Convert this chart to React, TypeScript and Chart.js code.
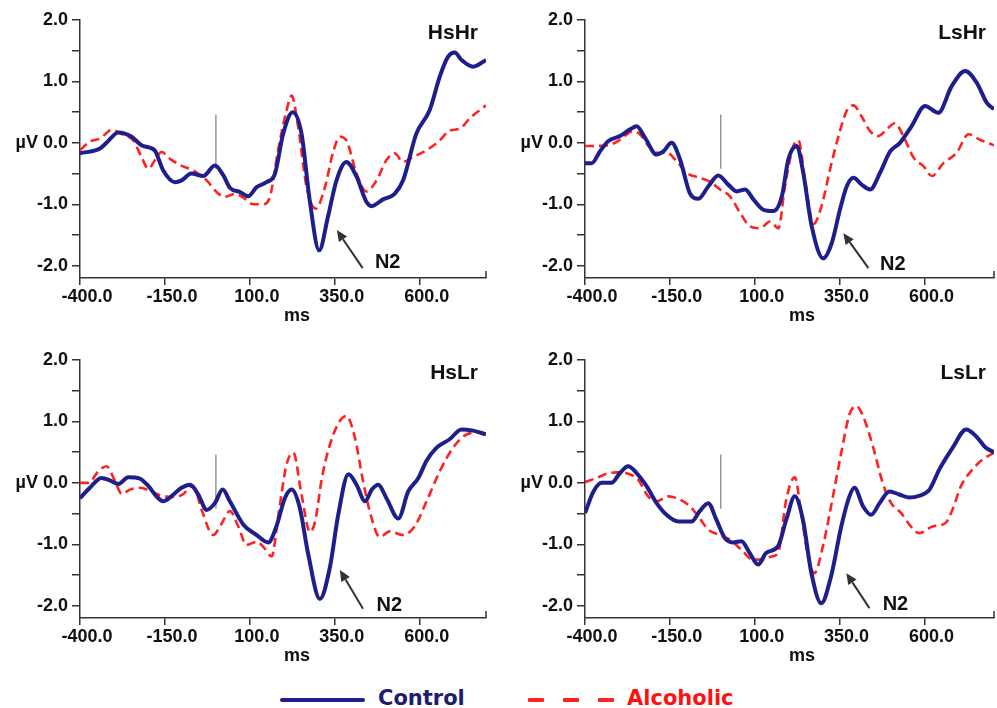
import React, { useEffect, useRef } from "react";
import { Chart, registerables } from "chart.js";

Chart.register(...registerables);

// ---------- data (time in ms, amplitude in µV) ----------
const xTickValues = [-400, -150, 100, 350, 600];
const yTickValues = [-2, -1.5, -1, -0.5, 0, 0.5, 1, 1.5, 2];
const legendLabels = ["Control", "Alcoholic"];

const hsHrControl = [[-400,-0.17],[-341,-0.09],[-322,0],[-287,0.17],[-248,0.1],[-219,-0.04],[-194,-0.08],[-179,-0.13],[-155,-0.45],[-120,-0.64],[-101,-0.61],[-72,-0.5],[-37,-0.54],[-3,-0.37],[22,-0.53],[41,-0.73],[71,-0.8],[95,-0.87],[120,-0.72],[149,-0.64],[174,-0.5],[198,0.15],[226,0.5],[252,0.15],[276,-0.93],[304,-1.75],[330,-1.2],[355,-0.61],[384,-0.31],[414,-0.55],[443,-0.96],[458,-1.03],[492,-0.92],[526,-0.83],[551,-0.61],[590,0.15],[629,0.53],[659,1.08],[683,1.4],[703,1.47],[723,1.35],[757,1.24],[795,1.35]];
const hsHrAlcoholic = [[-400,-0.12],[-371,0.02],[-341,0.07],[-307,0.21],[-273,0.13],[-243,0.04],[-219,-0.23],[-199,-0.42],[-179,-0.28],[-160,-0.15],[-135,-0.26],[-106,-0.36],[-67,-0.45],[-27,-0.61],[2,-0.8],[26,-0.88],[56,-0.83],[85,-0.91],[110,-1.0],[139,-1.0],[159,-0.88],[183,-0.12],[208,0.53],[223,0.77],[242,0.26],[267,-0.72],[294,-1.07],[321,-0.72],[345,-0.15],[365,0.1],[384,0.04],[414,-0.5],[443,-0.79],[473,-0.61],[502,-0.28],[526,-0.17],[551,-0.31],[580,-0.23],[620,-0.12],[659,0.04],[688,0.2],[718,0.23],[747,0.4],[795,0.61]];

const lsHrControl = [[-400,-0.33],[-380,-0.33],[-356,-0.14],[-331,0.03],[-297,0.11],[-267,0.22],[-248,0.27],[-223,0.08],[-189,-0.19],[-169,-0.14],[-145,0],[-120,-0.27],[-91,-0.82],[-66,-0.91],[-37,-0.71],[-7,-0.53],[22,-0.68],[47,-0.79],[72,-0.76],[96,-0.92],[126,-1.09],[155,-1.11],[180,-0.87],[199,-0.27],[224,-0.05],[243,-0.49],[268,-1.36],[302,-1.88],[327,-1.63],[351,-1.09],[371,-0.71],[391,-0.57],[415,-0.68],[440,-0.76],[469,-0.49],[499,-0.14],[528,0],[562,0.27],[602,0.6],[641,0.49],[680,0.92],[720,1.17],[754,0.98],[784,0.65],[805,0.55]];
const lsHrAlcoholic = [[-400,-0.05],[-366,-0.05],[-326,-0.03],[-297,0.05],[-258,0.19],[-238,0.14],[-213,-0.05],[-189,-0.16],[-159,-0.16],[-130,-0.3],[-100,-0.49],[-61,-0.57],[-32,-0.63],[-2,-0.76],[27,-0.87],[57,-1.14],[86,-1.36],[116,-1.39],[145,-1.28],[170,-1.39],[189,-0.71],[214,-0.05],[229,0.04],[248,-0.6],[273,-1.32],[297,-1.03],[322,-0.43],[347,0.11],[371,0.52],[391,0.61],[415,0.43],[440,0.19],[464,0.11],[489,0.22],[513,0.32],[538,0.11],[568,-0.24],[597,-0.38],[622,-0.54],[656,-0.33],[695,-0.16],[730,0.14],[764,0.05],[805,-0.04]];

const hsLrControl = [[-400,-0.25],[-371,-0.08],[-337,0.08],[-312,0.04],[-287,-0.02],[-258,0.09],[-224,0.07],[-199,-0.05],[-175,-0.22],[-155,-0.3],[-125,-0.19],[-101,-0.08],[-76,-0.03],[-52,-0.19],[-27,-0.44],[-3,-0.33],[20,-0.11],[41,-0.3],[81,-0.68],[120,-0.85],[154,-0.97],[178,-0.71],[203,-0.25],[223,-0.11],[247,-0.41],[272,-1.17],[306,-1.89],[335,-1.39],[360,-0.52],[390,0.14],[414,-0.03],[439,-0.3],[459,-0.11],[478,-0.03],[502,-0.25],[537,-0.58],[566,-0.14],[596,0.08],[620,0.36],[649,0.57],[688,0.71],[723,0.87],[757,0.85],[795,0.79]];
const hsLrAlcoholic = [[-400,0],[-375,0],[-346,0.19],[-322,0.27],[-297,0.03],[-277,-0.18],[-253,-0.11],[-224,-0.08],[-189,-0.14],[-165,-0.2],[-130,-0.23],[-101,-0.2],[-67,-0.05],[-42,-0.44],[-8,-0.85],[17,-0.66],[41,-0.46],[66,-0.71],[90,-1.01],[120,-0.96],[144,-1.07],[164,-1.2],[184,-0.52],[208,0.3],[228,0.49],[252,-0.19],[277,-0.8],[292,-0.63],[312,0.08],[336,0.63],[365,1.01],[384,1.09],[409,0.74],[433,0.03],[458,-0.57],[482,-0.88],[512,-0.79],[551,-0.85],[585,-0.71],[620,-0.3],[659,0.19],[698,0.57],[732,0.77],[767,0.82],[795,0.78]];

const lsLrControl = [[-400,-0.49],[-375,-0.14],[-351,0],[-322,0],[-297,0.16],[-273,0.27],[-248,0.16],[-219,-0.05],[-189,-0.33],[-160,-0.52],[-125,-0.63],[-86,-0.63],[-62,-0.46],[-37,-0.33],[-13,-0.6],[12,-0.9],[36,-0.97],[61,-0.95],[85,-1.14],[110,-1.33],[134,-1.14],[169,-1.03],[193,-0.6],[218,-0.22],[242,-0.6],[267,-1.47],[296,-1.96],[325,-1.52],[355,-0.71],[379,-0.22],[394,-0.08],[419,-0.38],[443,-0.52],[468,-0.33],[497,-0.14],[526,-0.19],[556,-0.24],[585,-0.21],[615,-0.11],[644,0.22],[683,0.57],[723,0.87],[752,0.76],[781,0.57],[805,0.5]];
const lsLrAlcoholic = [[-400,0.01],[-366,0.08],[-336,0.15],[-307,0.17],[-268,0.14],[-243,0.05],[-214,-0.22],[-189,-0.3],[-155,-0.22],[-125,-0.26],[-91,-0.38],[-67,-0.54],[-37,-0.76],[-8,-0.84],[26,-0.92],[61,-1.09],[95,-1.25],[125,-1.25],[149,-1.2],[169,-1.14],[193,-0.27],[218,0.09],[237,-0.49],[257,-1.2],[276,-1.47],[301,-1.03],[325,-0.38],[355,0.49],[379,1.11],[399,1.25],[419,1.09],[448,0.6],[477,0],[502,-0.33],[531,-0.49],[560,-0.71],[585,-0.82],[624,-0.71],[663,-0.65],[683,-0.43],[708,-0.05],[742,0.22],[771,0.38],[805,0.49]];

// stimulus-onset marker (ms, µV range)
const onsetMarker = [[0, 0.46], [0, -0.42]];

// N2 annotation: arrow tip, arrow tail, label position (ms, µV)
const n2HsHr = { tip: [356, -1.42], tail: [432, -2.04], label: [468, -1.95] };
const n2LsHr = { tip: [361, -1.47], tail: [435, -2.04], label: [469, -1.98] };
const n2HsLr = { tip: [365, -1.42], tail: [433, -2.05], label: [473, -2.0] };
const n2LsLr = { tip: [370, -1.47], tail: [438, -2.04], label: [477, -1.98] };

// ---------- styling ----------
const NAVY = "#1e1e8c";
const RED = "#ff2222";
const AXIS = "#333333";
const TEXT = "#111111";
const FONT = "'Liberation Sans', Arial, sans-serif";

const panels = [
  { title: "HsHr", control: hsHrControl, alcoholic: hsHrAlcoholic, n2: n2HsHr, xMax: 795, left: 0, top: 0, width: 497, axisLeft: 80, padRight: 11 },
  { title: "LsHr", control: lsHrControl, alcoholic: lsHrAlcoholic, n2: n2LsHr, xMax: 805, left: 497, top: 0, width: 500, axisLeft: 88, padRight: 3 },
  { title: "HsLr", control: hsLrControl, alcoholic: hsLrAlcoholic, n2: n2HsLr, xMax: 795, left: 0, top: 340, width: 497, axisLeft: 80, padRight: 11 },
  { title: "LsLr", control: lsLrControl, alcoholic: lsLrAlcoholic, n2: n2LsLr, xMax: 805, left: 497, top: 340, width: 500, axisLeft: 88, padRight: 3 },
];

const PANEL_H = 335;

const toPts = (arr: number[][]) => arr.map(([x, y]) => ({ x, y }));

const annotPlugin = {
  id: "annot",
  afterDatasetsDraw(chart: any) {
    const opts = chart.options.plugins.annot;
    const { ctx, chartArea, scales } = chart;
    const xs = scales.x;
    const ys = scales.y;
    ctx.save();
    // µV label
    ctx.fillStyle = TEXT;
    ctx.font = `bold 18px ${FONT}`;
    ctx.textAlign = "right";
    ctx.textBaseline = "middle";
    ctx.fillText("µV", chartArea.left - 42, ys.getPixelForValue(0));
    // title
    ctx.font = `bold 21px ${FONT}`;
    ctx.fillText(opts.title, chartArea.right - 8, chartArea.top + 13);
    // x axis title
    ctx.font = `bold 18px ${FONT}`;
    ctx.textAlign = "center";
    ctx.fillText("ms", chartArea.left + 217, chartArea.bottom + 38);
    // right end tick
    ctx.strokeStyle = AXIS;
    ctx.lineWidth = 1.5;
    ctx.beginPath();
    ctx.moveTo(chartArea.right, chartArea.bottom);
    ctx.lineTo(chartArea.right, chartArea.bottom - 7);
    ctx.stroke();
    // N2 arrow
    const n2 = opts.n2;
    const tx = xs.getPixelForValue(n2.tip[0]);
    const ty = ys.getPixelForValue(n2.tip[1]);
    const bx = xs.getPixelForValue(n2.tail[0]);
    const by = ys.getPixelForValue(n2.tail[1]);
    const ang = Math.atan2(ty - by, tx - bx);
    const head = 11;
    const hw = 5;
    const hx = tx - head * Math.cos(ang);
    const hy = ty - head * Math.sin(ang);
    ctx.strokeStyle = "#333";
    ctx.lineWidth = 2;
    ctx.beginPath();
    ctx.moveTo(bx, by);
    ctx.lineTo(hx, hy);
    ctx.stroke();
    ctx.fillStyle = "#333";
    ctx.beginPath();
    ctx.moveTo(tx, ty);
    ctx.lineTo(hx + hw * Math.sin(ang), hy - hw * Math.cos(ang));
    ctx.lineTo(hx - hw * Math.sin(ang), hy + hw * Math.cos(ang));
    ctx.closePath();
    ctx.fill();
    ctx.fillStyle = TEXT;
    ctx.font = `bold 20px ${FONT}`;
    ctx.textAlign = "left";
    ctx.textBaseline = "middle";
    ctx.fillText("N2", xs.getPixelForValue(n2.label[0]), ys.getPixelForValue(n2.label[1]));
    ctx.restore();
  },
};

function Panel({ p }: { p: any }) {
  const ref = useRef<HTMLCanvasElement | null>(null);
  useEffect(() => {
    if (!ref.current) return;
    const tickFont = { family: FONT, size: 18, weight: "bold" as const };
    const chart = new Chart(ref.current, {
      type: "line",
      data: {
        datasets: [
          {
            label: legendLabels[0],
            data: toPts(p.control),
            borderColor: NAVY,
            borderWidth: 4,
            pointRadius: 0,
            cubicInterpolationMode: "monotone",
            fill: false,
          },
          {
            label: legendLabels[1],
            data: toPts(p.alcoholic),
            borderColor: RED,
            borderWidth: 2.6,
            borderDash: [9, 5],
            pointRadius: 0,
            cubicInterpolationMode: "monotone",
            fill: false,
          },
          {
            label: "onset",
            data: toPts(onsetMarker),
            borderColor: "#888888",
            borderWidth: 1.3,
            pointRadius: 0,
            tension: 0,
            fill: false,
          },
        ],
      },
      options: {
        animation: false,
        responsive: false,
        devicePixelRatio: 1,
        layout: { padding: { top: 20, right: p.padRight, left: 0, bottom: 0 } },
        plugins: {
          legend: { display: false },
          tooltip: { enabled: false },
          // @ts-ignore
          annot: { title: p.title, n2: p.n2 },
        },
        scales: {
          x: {
            type: "linear",
            min: -400,
            max: p.xMax,
            afterBuildTicks: (s: any) => {
              s.ticks = xTickValues.map((v) => ({ value: v }));
            },
            afterFit: (s: any) => {
              s.height = 57;
            },
            ticks: {
              autoSkip: false,
              maxRotation: 0,
              minRotation: 0,
              font: tickFont,
              color: TEXT,
              padding: 1,
              labelOffset: 7,
              callback: (v: any) => Number(v).toFixed(1),
            },
            grid: { drawOnChartArea: false, tickLength: 7, color: AXIS, lineWidth: 1.5 },
            border: { color: AXIS, width: 1.5 },
          },
          y: {
            type: "linear",
            min: -2.2,
            max: 2,
            afterBuildTicks: (s: any) => {
              s.ticks = yTickValues.map((v) => ({ value: v }));
            },
            afterFit: (s: any) => {
              s.width = p.axisLeft;
            },
            ticks: {
              autoSkip: false,
              font: tickFont,
              color: TEXT,
              padding: 4,
              callback: (v: any) => (Number.isInteger(Number(v)) ? Number(v).toFixed(1) : ""),
            },
            grid: { drawOnChartArea: false, tickLength: 8, color: AXIS, lineWidth: 1.5 },
            border: { color: AXIS, width: 1.5 },
          },
        },
      },
      plugins: [annotPlugin],
    });
    return () => chart.destroy();
  }, [p]);
  return (
    <canvas
      ref={ref}
      width={p.width}
      height={PANEL_H}
      style={{ position: "absolute", left: p.left, top: p.top, width: p.width, height: PANEL_H }}
    />
  );
}

export default function App() {
  const legendFont = "bold 21px 'DejaVu Sans', Verdana, sans-serif";
  return (
    <div style={{ position: "absolute", left: 0, top: 0, width: 997, height: 708, background: "#fff", overflow: "hidden" }}>
      {panels.map((p) => (
        <Panel key={p.title} p={p} />
      ))}
      <div style={{ position: "absolute", left: 280, top: 698, width: 85, height: 4, background: NAVY, borderRadius: 2 }} />
      <span style={{ position: "absolute", left: 378, top: 688, font: legendFont, lineHeight: "21px", color: "#1d1d6e", whiteSpace: "nowrap" }}>
        {legendLabels[0]}
      </span>
      {[528, 563, 598].map((x) => (
        <div key={x} style={{ position: "absolute", left: x, top: 698, width: 16, height: 4, background: RED, borderRadius: 1 }} />
      ))}
      <span style={{ position: "absolute", left: 627, top: 688, font: legendFont, lineHeight: "21px", color: "#ff1111", whiteSpace: "nowrap" }}>
        {legendLabels[1]}
      </span>
    </div>
  );
}
